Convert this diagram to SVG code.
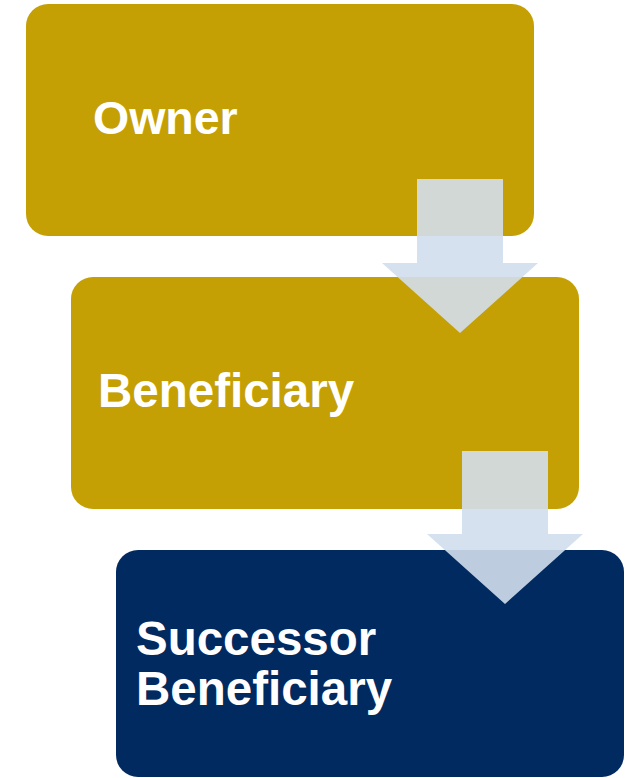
<svg xmlns="http://www.w3.org/2000/svg" width="634" height="778" viewBox="0 0 634 778">
  <style>
    .box-gold { fill: #C5A005; }
    .box-navy { fill: #002A60; }
    .label { font-family: "Liberation Sans", Arial, sans-serif; font-weight: bold; font-size: 47.5px; fill: #FFFFFF; }
    .step-arrow { fill: #D2DEED; fill-opacity: 0.9; }
  </style>
  <rect width="634" height="778" fill="#FFFFFF"/>

  <g id="owner">
    <rect class="box-gold" x="26" y="4" width="508" height="232" rx="22"/>
    <text class="label" x="93" y="134" style="font-size:46.5px">Owner</text>
  </g>

  <g id="beneficiary">
    <rect class="box-gold" x="71" y="277" width="508" height="232" rx="22"/>
    <text class="label" x="98" y="407">Beneficiary</text>
  </g>

  <g id="successor-beneficiary">
    <rect class="box-navy" x="116" y="550" width="508" height="227" rx="22"/>
    <text class="label" x="136" y="655">Successor</text>
    <text class="label" x="136" y="705">Beneficiary</text>
  </g>

  <g id="connectors">
    <path class="step-arrow" d="M417,179 H503 V263 H538 L460,333 L382,263 H417 Z"/>
    <path class="step-arrow" d="M462,451 H548 V534 H583 L505,604 L427,534 H462 Z"/>
  </g>
</svg>
